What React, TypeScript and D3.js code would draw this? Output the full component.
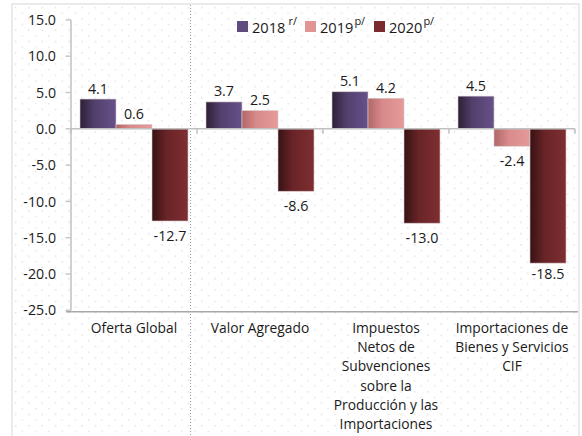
import React from "react";
import * as d3 from "d3";

const categories = [
  "Oferta Global",
  "Valor Agregado",
  "Impuestos\nNetos de\nSubvenciones\nsobre la\nProducción y las\nImportaciones",
  "Importaciones de\nBienes y Servicios\nCIF",
];
const seriesNames = ["2018", "2019", "2020"];
const seriesSup = ["r/", "p/", "p/"];
const values2018 = [4.1, 3.7, 5.1, 4.5];
const values2019 = [0.6, 2.5, 4.2, -2.4];
const values2020 = [-12.7, -8.6, -13.0, -18.5];
const yTicks = [15, 10, 5, 0, -5, -10, -15, -20, -25];

const seriesValues = [values2018, values2019, values2020];
const gradStops = [
  ["#2c2035", "#52406c", "#66518a"],
  ["#b06767", "#d98a8a", "#e59a9a"],
  ["#371214", "#682427", "#7f2e31"],
];
const legendColors = ["#5f4b7e", "#e09494", "#7b2a2d"];

const fmt = d3.formatLocale({
  decimal: ".",
  thousands: ",",
  grouping: [3],
  currency: ["", ""],
  minus: "-",
}).format(".1f");

const FONT = "'Open Sans', 'Noto Sans', sans-serif";

export default function App() {
  const W = 582;
  const H = 436;
  const y = d3.scaleLinear().domain([-25, 15]).range([310.3, 19.9]);
  const x = d3.scaleBand<string>().domain(categories).range([71, 575]).padding(0);
  const xs = d3
    .scaleBand<string>()
    .domain(seriesNames)
    .range([9, x.bandwidth() - 9])
    .padding(0);
  const y0 = y(0);

  return (
    <svg
      width={W}
      height={H}
      style={{ position: "absolute", left: 0, top: 0, background: "#fff" }}
      fontFamily={FONT}
    >
      <defs>
        <pattern id="dots" x={12} y={4} width={13.3} height={11.3} patternUnits="userSpaceOnUse">
          <rect x={3} y={3} width={1.2} height={1.2} fill="#d0d0d0" />
          <rect x={9.65} y={8.65} width={1.2} height={1.2} fill="#d8d8d8" />
        </pattern>
        {gradStops.map((s, i) => (
          <linearGradient key={i} id={`g${i}`} x1="0" x2="1" y1="0" y2="0">
            <stop offset="0%" stopColor={s[0]} />
            <stop offset="40%" stopColor={s[1]} />
            <stop offset="100%" stopColor={s[2]} />
          </linearGradient>
        ))}
      </defs>
      <rect x={0} y={0} width={W} height={H} fill="#fff" />
      <rect x={12} y={4} width={567} height={H} fill="url(#dots)" stroke="#e2dae2" strokeWidth={1.2} />

      {/* separator */}
      <line x1={190.5} x2={190.5} y1={5} y2={H} stroke="#9a9a9a" strokeWidth={1} strokeDasharray="1,2" />

      {/* y axis */}
      <line x1={71} x2={71} y1={y(15)} y2={y(-25)} stroke="#d0d0d0" strokeWidth={2} />
      {yTicks.map((t) => (
        <g key={t}>
          <line x1={65.5} x2={71} y1={y(t)} y2={y(t)} stroke="#c8c8c8" strokeWidth={1.5} />
          <text x={56} y={y(t)} dy="0.36em" textAnchor="end" fontSize={14.2} fill="#1a1a1a">
            {fmt(t)}
          </text>
        </g>
      ))}

      {/* bottom line */}
      <line x1={66} x2={578} y1={311.7} y2={311.7} stroke="#a8a8a8" strokeWidth={1.5} />

      {/* bars */}
      {categories.map((c, ci) =>
        seriesNames.map((s, si) => {
          const v = seriesValues[si][ci];
          const bx = (x(c) as number) + (xs(s) as number);
          const bw = xs.bandwidth();
          const top = Math.min(y(v), y0);
          const h = Math.abs(y(v) - y0);
          return (
            <g key={c + s}>
              <rect x={bx} y={top} width={bw} height={h} fill={`url(#g${si})`} stroke="#d8c8cc" strokeWidth={0.6} />
              <text
                x={bx + bw / 2}
                y={v >= 0 ? y(v) - 5.5 : y(v) + (v < -15 ? 16 : 20)}
                textAnchor="middle"
                fontSize={14.3}
                fill="#1a1a1a"
              >
                {fmt(v)}
              </text>
            </g>
          );
        })
      )}

      {/* zero axis */}
      <line x1={71} x2={575} y1={y0} y2={y0} stroke="#c0c0c0" strokeWidth={1.5} />
      {[...categories.map((c) => x(c) as number), 575].map((tx, i) => (
        <line key={i} x1={tx} x2={tx} y1={y0} y2={y0 + 5} stroke="#c0c0c0" strokeWidth={1.5} />
      ))}

      {/* category labels */}
      {categories.map((c) => {
        const cx = (x(c) as number) + x.bandwidth() / 2;
        return (
          <text key={c} x={cx} y={333} textAnchor="middle" fontSize={13.8} fill="#1a1a1a">
            {c.split("\n").map((ln, li) => (
              <tspan key={li} x={cx} dy={li === 0 ? 0 : 19.2}>
                {ln}
              </tspan>
            ))}
          </text>
        );
      })}

      {/* legend */}
      {[237, 305, 374].map((lx, i) => (
        <g key={i}>
          <rect x={lx} y={21} width={11} height={11} fill={legendColors[i]} />
          <text x={lx + 15} y={32.5} fontSize={14.6} fill="#1a1a1a">
            {seriesNames[i]}
            <tspan fontSize={11} dx={i === 0 ? 3 : 1} dy={-8}>
              {seriesSup[i]}
            </tspan>
          </text>
        </g>
      ))}
    </svg>
  );
}
